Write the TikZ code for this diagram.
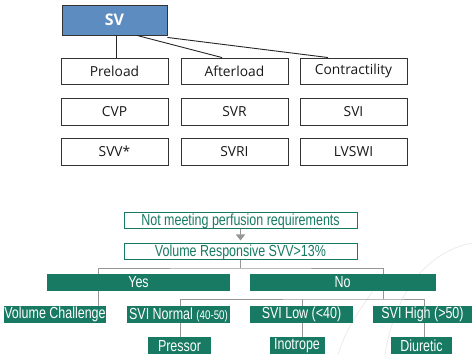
\documentclass[tikz,border=0pt]{standalone}
\usepackage{fontspec}
\setmainfont{Open Sans}
\newfontfamily\condfont[FakeStretch=0.78]{Liberation Sans}
\usetikzlibrary{calc,arrows.meta}
\definecolor{teal1}{RGB}{24,122,98}
\definecolor{svblue}{RGB}{92,140,192}
\definecolor{lnk}{RGB}{150,150,150}
\tikzset{
  topbox/.style={draw=black!80, line width=0.9pt, fill=white, minimum width=107pt, minimum height=26pt, inner sep=0pt, font=\fontsize{13.8}{15}\selectfont, text=black!90},
  svbox/.style={topbox, fill=svblue, minimum width=105pt, minimum height=30pt, text=white, font=\fontsize{16}{18}\selectfont\bfseries},
  toplink/.style={draw=black!85, line width=0.9pt},
  obox/.style={draw=teal1, line width=1pt, fill=white, text=teal1, minimum width=233pt, minimum height=16pt, inner sep=0pt, font=\condfont\fontsize{16}{16}\selectfont},
  gbox/.style={fill=teal1, text=white, minimum height=17pt, inner sep=0pt, font=\condfont\fontsize{16}{16}\selectfont},
  glink/.style={draw=lnk, line width=0.8pt},
}
\begin{document}
\begin{tikzpicture}[x=1pt,y=-1pt]
\useasboundingbox (0,0) rectangle (472,355);
% faint background arcs
\draw[black!8, line width=0.8pt] (473,243) .. controls (430,250) and (395,290) .. (385,355);
\draw[black!8, line width=0.8pt] (372,292) .. controls (360,310) and (345,330) .. (338,355);
% top
\node[svbox] (SV) at (114.5,20) {SV};
\node[topbox] (pre) at (114.5,71) {Preload};
\node[topbox] (aft) at (234.5,71) {Afterload};
\node[topbox] (con) at (353.5,71) {Contractility};
\node[topbox, minimum height=27pt] (cvp) at (114.5,111.5) {CVP};
\node[topbox, minimum height=27pt] (svr) at (234.5,111.5) {SVR};
\node[topbox, minimum height=27pt] (svi) at (353.5,111.5) {SVI};
\node[topbox, minimum height=27pt] (svv) at (114.5,151.5) {SVV*};
\node[topbox, minimum height=27pt] (svri) at (234.5,151.5) {SVRI};
\node[topbox, minimum height=27pt] (lvswi) at (353.5,151.5) {LVSWI};
\draw[toplink] ([xshift=1.5pt]SV.south) -- ([xshift=1.5pt]pre.north);
\draw[toplink] ([xshift=22.5pt]SV.south) -- ([xshift=-12.5pt]aft.north);
\draw[toplink] ([yshift=-2pt]SV.south east) -- ([xshift=-25.5pt]con.north);
% bottom
\node[obox] (nmp) at (240.5,221) {Not meeting perfusion requirements};
\node[obox] (vol) at (240.5,252) {Volume Responsive SVV>13\%};
\draw[lnk, line width=1.2pt, -{Triangle[length=6pt,width=9pt]}, shorten >=3pt] (nmp.south) -- (vol.north);
\node[gbox, minimum width=183pt] (yes) at (138.5,282.5) {Yes};
\node[gbox, minimum width=186pt] (no) at (342.5,282.5) {No};
\node[gbox, minimum width=102pt] (vc) at (55,314.5) {Volume Challenge};
\node[gbox, minimum width=103pt] (svin) at (178.5,314.5) {SVI Normal {\fontsize{12.5}{13}\selectfont (40-50)}};
\node[gbox, minimum width=103pt] (svil) at (301.5,314.5) {SVI Low (<40)};
\node[gbox, minimum width=99pt] (svih) at (422.5,314.5) {SVI High (>50)};
\node[gbox, minimum width=63pt] (pres) at (179.5,346) {Pressor};
\node[gbox, minimum width=55pt] (ino) at (297,346) {Inotrope};
\node[gbox, minimum width=61pt] (diu) at (421.5,346) {Diuretic};
\coordinate (j1) at (240.5,268);
\coordinate (j2) at (383,299);
\draw[glink] (vol.south) -- (j1);
\draw[glink] ([xshift=-40.5pt]yes.north) |- (j1) -| ([xshift=40.5pt]no.north);
\draw[glink] ([xshift=-40.5pt]yes.south) -- ([xshift=43pt]vc.north);
\draw[glink] ([xshift=40.5pt]no.south) -- (j2);
\draw[glink] ([xshift=1.5pt]svin.north) |- (j2) -| ([xshift=1.5pt]svih.north);
\draw[glink] ([xshift=0.5pt]svil.north) -- ([xshift=0.5pt]svil.north |- j2);
\draw[glink] ([xshift=1.5pt]svin.south) -- ([xshift=0.5pt]pres.north);
\draw[glink] ([xshift=0.5pt]svil.south) -- ([xshift=5pt]ino.north);
\draw[glink] ([xshift=1.5pt]svih.south) -- ([xshift=2.5pt]diu.north);
\end{tikzpicture}
\end{document}
